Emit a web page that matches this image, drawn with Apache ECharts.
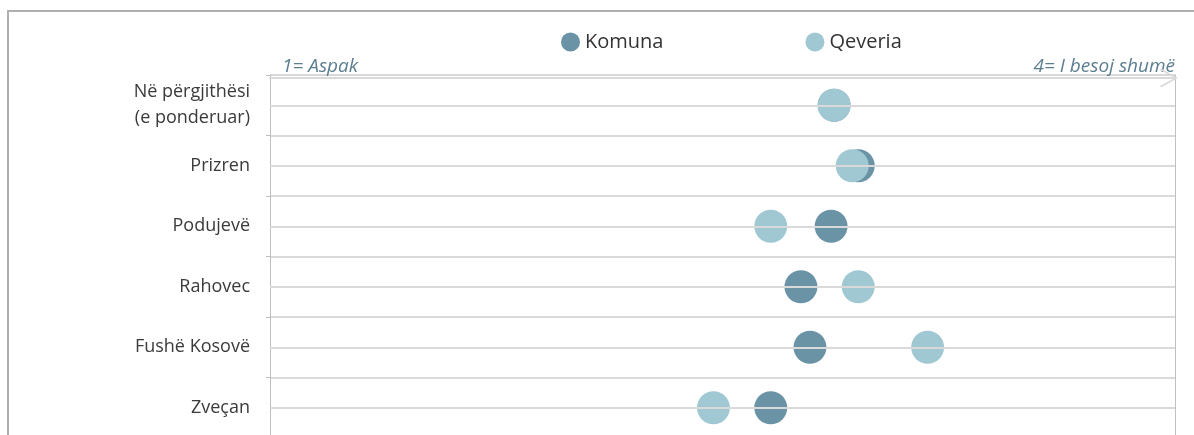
<!DOCTYPE html>
<html>
<head>
<meta charset="utf-8">
<script src="https://cdn.jsdelivr.net/npm/echarts@6/dist/echarts.min.js"></script>
<style>
  html, body { margin: 0; padding: 0; background: #fff; overflow: hidden; }
  #chart { width: 1194px; height: 441px; }
</style>
</head>
<body>
<div id="chart"></div>
<script>
// komunat (rreshtat nga lart poshte)
const qytetet = ['Në përgjithësi\n(e ponderuar)', 'Prizren', 'Podujevë', 'Rahovec', 'Fushë Kosovë', 'Zveçan'];
// besimi mesatar, shkalla 1-4
const komuna = [2.87, 2.95, 2.86, 2.76, 2.79, 2.66];
const qeveria = [2.87, 2.93, 2.66, 2.95, 3.18, 2.47];
// etiketat e skajeve te boshtit
const skajet = { 1: '1= Aspak', 4: '4= I besoj shumë' };

const font = "'Open Sans', sans-serif";
const gri = '#D9D9D9';

const chart = echarts.init(document.getElementById('chart'));

chart.setOption({
  animation: false,
  textStyle: { fontFamily: font },
  graphic: [{
    type: 'rect',
    z: -1,
    shape: { x: 8, y: 11, width: 1200, height: 500 },
    style: { fill: 'none', stroke: '#B0B0B0', lineWidth: 2 }
  }],
  legend: {
    data: ['Komuna', 'Qeveria'],
    left: 556,
    top: 27,
    icon: 'circle',
    itemWidth: 19,
    itemHeight: 19,
    itemGap: 142,
    textStyle: { fontSize: 20, color: '#333', fontFamily: font }
  },
  grid: { left: 270, right: 19, top: 75, bottom: 3 },
  xAxis: {
    type: 'value',
    position: 'top',
    min: 1,
    max: 4,
    offset: -3,
    splitLine: { show: false },
    axisTick: { show: false },
    axisLine: {
      show: true,
      lineStyle: { color: gri, width: 2 },
      symbol: ['none', 'path://M0,17 L9.5,0 L19,17 L17.5,18 L9.5,3 L1.5,18 Z'],
      symbolSize: [19, 18],
      symbolOffset: [0, -6]
    },
    axisLabel: {
      customValues: [1, 4],
      formatter: v => skajet[v] || '',
      alignMinLabel: 'left',
      alignMaxLabel: 'right',
      fontStyle: 'italic',
      fontSize: 19,
      color: '#5B7E90',
      margin: 2,
      padding: [0, 0, 0, 12],
      fontFamily: font
    }
  },
  yAxis: [{
    type: 'category',
    data: qytetet,
    inverse: true,
    axisLine: { onZero: false, lineStyle: { color: '#BFBFBF', width: 1 } },
    axisTick: { show: true, length: 4, lineStyle: { color: '#BFBFBF' } },
    axisLabel: { fontSize: 18, color: '#3A3A3A', margin: 20, lineHeight: 26, fontFamily: font },
    splitLine: { show: true, lineStyle: { color: gri, width: 2 } }
  }, {
    type: 'category',
    data: qytetet,
    inverse: true,
    position: 'right',
    axisLine: { show: true, onZero: false, lineStyle: { color: '#BFBFBF', width: 1 } },
    axisTick: { show: false },
    axisLabel: { show: false },
    splitLine: { show: false }
  }],
  series: [{
    // vijat ne mes te cdo rreshti
    name: 'vijat',
    type: 'scatter',
    data: [],
    z: 1,
    silent: true,
    markLine: {
      silent: true,
      symbol: ['none', 'none'],
      label: { show: false },
      lineStyle: { type: 'solid', color: gri, width: 2 },
      data: qytetet.map(q => ({ yAxis: q }))
    }
  }, {
    name: 'Komuna',
    type: 'scatter',
    symbolSize: 33,
    z: 3,
    itemStyle: { color: '#6A93A6', opacity: 1 },
    data: komuna.map((v, i) => [v, i])
  }, {
    name: 'Qeveria',
    type: 'scatter',
    symbolSize: 33,
    z: 4,
    itemStyle: { color: '#A0C8D2', opacity: 1 },
    data: qeveria.map((v, i) => [v, i])
  }]
});
</script>
</body>
</html>
